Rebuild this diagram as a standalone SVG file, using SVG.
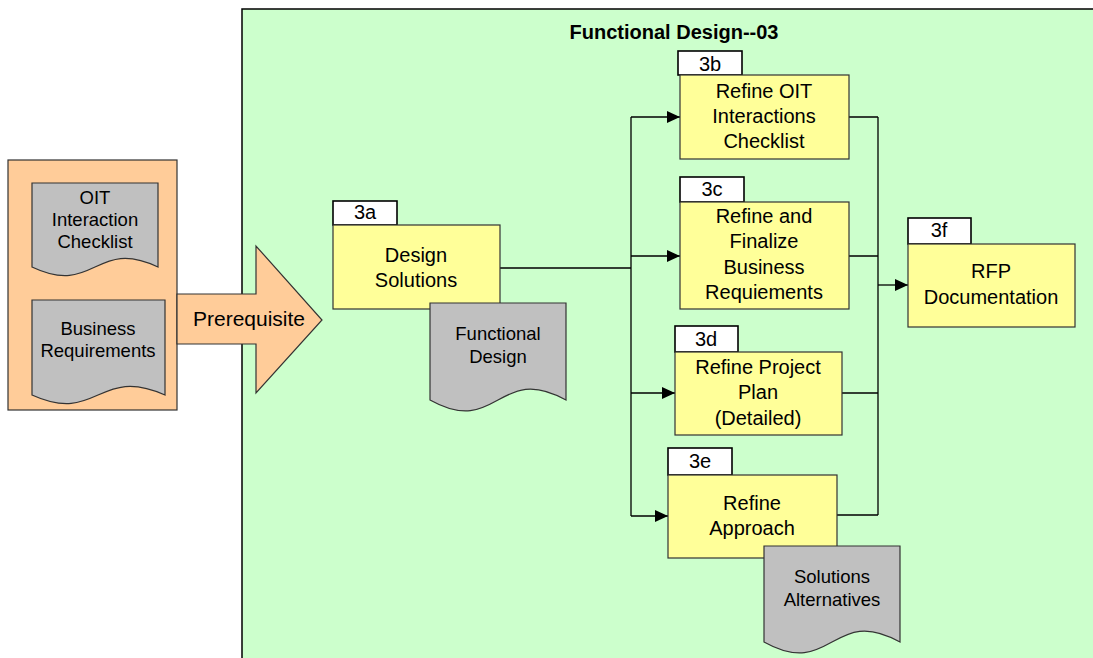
<svg xmlns="http://www.w3.org/2000/svg" width="1093" height="658" viewBox="0 0 1093 658">
<style>
text{font-family:"Liberation Sans",Arial,sans-serif;fill:#000;text-anchor:middle}
.box{fill:#FFFF99;stroke:#333;stroke-width:1.2}
.tab{fill:#fff;stroke:#000;stroke-width:1.6}
.doc{fill:#C0C0C0;stroke:#333;stroke-width:1.2}
.t20{font-size:20px}
.t18{font-size:18.5px}
.conn{fill:none;stroke:#000;stroke-width:1.3}
</style>
<defs>
<marker id="ah" markerUnits="userSpaceOnUse" markerWidth="14" markerHeight="12" refX="13" refY="6" orient="auto">
<path d="M0,0 L13,6 L0,12 Z" fill="#000"/>
</marker>
</defs>
<rect id="container" x="242" y="9" width="860" height="660" fill="#CCFFCC" stroke="#000" stroke-width="1.5"/>
<text x="674" y="39" style="font-size:20px;font-weight:bold">Functional Design--03</text>

<g id="prereq">
<rect x="8" y="160" width="169" height="250" fill="#FFCC99" stroke="#333" stroke-width="1.2"/>
<polygon points="177,294 256,294 256,246 322,320 256,393 256,344 177,344" fill="#FFCC99" stroke="#333" stroke-width="1.2"/>
<text class="t20" x="249" y="326" style="font-size:21px">Prerequisite</text>
</g>
<g id="doc-oit">
<path class="doc" d="M32,183 H158 V267 C95,237 95,297 32,267 Z"/>
<text class="t18" x="95" y="204">OIT</text>
<text class="t18" x="95" y="226">Interaction</text>
<text class="t18" x="95" y="248">Checklist</text>
</g>
<g id="doc-br">
<path class="doc" d="M32,300 H165 V395 C98,365 98,425 32,395 Z"/>
<text class="t18" x="98" y="335">Business</text>
<text class="t18" x="98" y="357">Requirements</text>
</g>

<g id="connectors">
<path class="conn" d="M500,268 H631 M631,117 V516"/>
<path class="conn" d="M631,117 H680" marker-end="url(#ah)"/>
<path class="conn" d="M631,256 H680" marker-end="url(#ah)"/>
<path class="conn" d="M631,393 H675" marker-end="url(#ah)"/>
<path class="conn" d="M631,516 H668" marker-end="url(#ah)"/>
<path class="conn" d="M849,117 H878 M849,256 H878 M842,393 H878 M837,515 H878 M878,117 V515"/>
<path class="conn" d="M878,285 H908" marker-end="url(#ah)"/>
</g>

<g id="n3a">
<rect class="tab" x="333" y="201" width="64" height="24"/>
<text class="t20" x="365" y="219">3a</text>
<rect class="box" x="333" y="225" width="167" height="84"/>
<text class="t20" x="416" y="262">Design</text>
<text class="t20" x="416" y="287">Solutions</text>
</g>
<g id="doc-fd">
<path class="doc" d="M430,303 H566 V400 C498,362 498,438 430,400 Z"/>
<text class="t18" x="498" y="340">Functional</text>
<text class="t18" x="498" y="363">Design</text>
</g>
<g id="n3b">
<rect class="tab" x="678" y="51" width="64" height="24"/>
<text class="t20" x="710" y="71">3b</text>
<rect class="box" x="680" y="75" width="169" height="84"/>
<text class="t20" x="764" y="98">Refine OIT</text>
<text class="t20" x="764" y="123">Interactions</text>
<text class="t20" x="764" y="148">Checklist</text>
</g>
<g id="n3c">
<rect class="tab" x="680" y="177" width="64" height="25"/>
<text class="t20" x="712" y="196">3c</text>
<rect class="box" x="680" y="202" width="169" height="107"/>
<text class="t20" x="764" y="223">Refine and</text>
<text class="t20" x="764" y="248">Finalize</text>
<text class="t20" x="764" y="274">Business</text>
<text class="t20" x="764" y="299">Requiements</text>
</g>
<g id="n3d">
<rect class="tab" x="675" y="326" width="63" height="26"/>
<text class="t20" x="706" y="346">3d</text>
<rect class="box" x="675" y="352" width="167" height="83"/>
<text class="t20" x="758" y="374">Refine Project</text>
<text class="t20" x="758" y="399">Plan</text>
<text class="t20" x="758" y="425">(Detailed)</text>
</g>
<g id="n3e">
<rect class="tab" x="668" y="448" width="64" height="27"/>
<text class="t20" x="700" y="468">3e</text>
<rect class="box" x="668" y="475" width="169" height="83"/>
<text class="t20" x="752" y="510">Refine</text>
<text class="t20" x="752" y="535">Approach</text>
</g>
<g id="doc-sa">
<path class="doc" d="M764,546 H900 V642 C832,604 832,680 764,642 Z"/>
<text class="t18" x="832" y="583">Solutions</text>
<text class="t18" x="832" y="606">Alternatives</text>
</g>
<g id="n3f">
<rect class="tab" x="908" y="218" width="63" height="26"/>
<text class="t20" x="939" y="237">3f</text>
<rect class="box" x="908" y="244" width="167" height="83"/>
<text class="t20" x="991" y="278">RFP</text>
<text class="t20" x="991" y="304">Documentation</text>
</g>
</svg>
